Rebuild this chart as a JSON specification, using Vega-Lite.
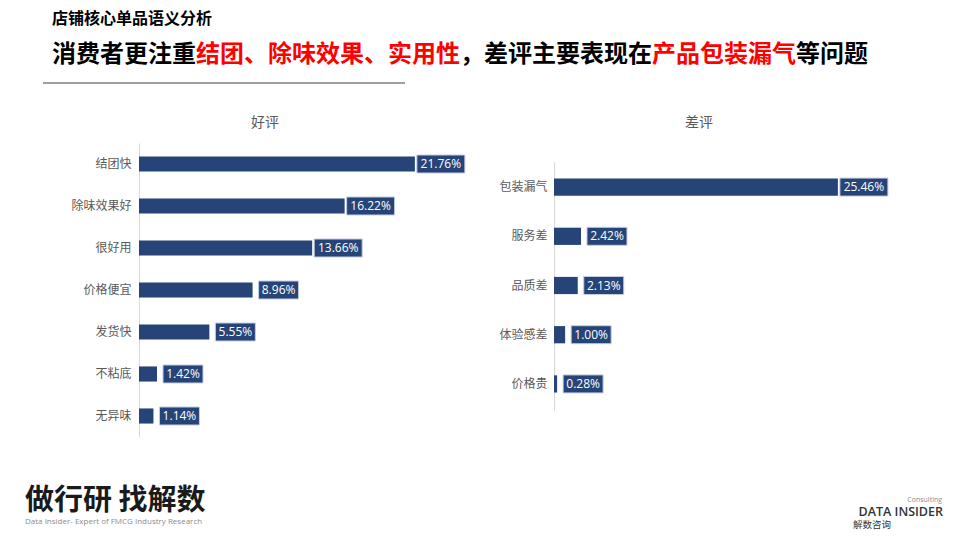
{
  "$schema": "https://vega.github.io/schema/vega-lite/v6.json",
  "background": "white",
  "padding": {"left": 25, "top": 11, "right": 10, "bottom": 5},
  "title": {"text": "店铺核心单品语义分析", "anchor": "start", "frame": "bounds", "dx": 27, "fontSize": 16, "fontWeight": "bold", "color": "#000000", "offset": 16, "font": "Noto Sans CJK SC"},
  "spacing": 32,
  "vconcat": [
    {
      "width": 266,
      "height": 40,
      "data": {"values": [{"black": "消费者更注重　　　　　　　　　　　，差评主要表现在　　　　　　等问题", "red": "\u200b　　　　　　结团、除味效果、实用性　　　　　　　　产品包装漏气"}]},
      "encoding": {"x": {"datum": 0, "type": "quantitative", "scale": {"domain": [0, 1]}, "axis": null}},
      "layer": [
        {"mark": {"type": "rule", "y": "height", "xOffset": -96, "color": "#7f7f7f", "strokeWidth": 1.5}, "encoding": {"x2": {"datum": 1}}},
        {"mark": {"type": "text", "align": "left", "baseline": "middle", "dx": -87, "dy": -8, "fontSize": 24, "fontWeight": "bold", "color": "#000000", "font": "Noto Sans CJK SC"}, "encoding": {"text": {"field": "black", "type": "nominal"}}},
        {"mark": {"type": "text", "align": "left", "baseline": "middle", "dx": -87, "dy": -8, "fontSize": 24, "fontWeight": "bold", "color": "#ff0000", "font": "Noto Sans CJK SC"}, "encoding": {"text": {"field": "red", "type": "nominal"}}}
      ]
    },
    {
      "spacing": 11,
      "hconcat": [
        {
          "width": 348,
          "height": 294,
          "title": {"text": "好评", "fontSize": 14, "fontWeight": "normal", "color": "#595959", "anchor": "middle", "frame": "bounds", "offset": 13},
          "data": {"values": [
            {"item": "结团快", "share": 0.2176},
            {"item": "除味效果好", "share": 0.1622},
            {"item": "很好用", "share": 0.1366},
            {"item": "价格便宜", "share": 0.0896},
            {"item": "发货快", "share": 0.0555},
            {"item": "不粘底", "share": 0.0142},
            {"item": "无异味", "share": 0.0114}
          ]},
          "encoding": {
            "y": {"field": "item", "type": "nominal", "sort": null, "scale": {"paddingInner": 0.64, "paddingOuter": 0.32}, "axis": {"title": null, "ticks": false, "labelPadding": 8, "labelFontSize": 12, "labelColor": "#595959", "domainColor": "#d9d9d9", "minExtent": 96}},
            "x": {"field": "share", "type": "quantitative", "scale": {"domain": [0, 0.2745]}, "axis": null}
          },
          "layer": [
            {"mark": {"type": "bar", "color": "#264478"}},
            {"mark": {"type": "tick", "orient": "horizontal", "thickness": 18, "xOffset": 26, "color": "#264478", "stroke": "#c5cde0", "strokeWidth": 1, "opacity": 1}, "encoding": {"size": {"condition": {"test": "datum.share >= 0.1", "value": 48}, "value": 40}}},
            {"mark": {"type": "text", "align": "center", "baseline": "middle", "dx": 26, "color": "#ffffff", "fontSize": 12, "font": "Open Sans"}, "encoding": {"text": {"field": "share", "type": "quantitative", "format": ".2%"}}}
          ]
        },
        {
          "width": 345,
          "height": 266,
          "title": {"text": "差评", "fontSize": 14, "fontWeight": "normal", "color": "#595959", "anchor": "middle", "frame": "bounds", "offset": 13},
          "data": {"values": [
            {"item": "包装漏气", "share": 0.2546},
            {"item": "服务差", "share": 0.0242},
            {"item": "品质差", "share": 0.0213},
            {"item": "体验感差", "share": 0.0100},
            {"item": "价格贵", "share": 0.0028}
          ]},
          "encoding": {
            "y": {"field": "item", "type": "nominal", "sort": null, "scale": {"domain": ["包装漏气", "服务差", "品质差", "体验感差", "价格贵"], "paddingInner": 0.65, "paddingOuter": 0.528, "align": 0.683}, "axis": {"title": null, "ticks": false, "domain": false, "labelPadding": 7, "labelFontSize": 12, "labelColor": "#595959", "minExtent": 55}},
            "x": {"field": "share", "type": "quantitative", "scale": {"domain": [0, 0.3094]}, "axis": null}
          },
          "layer": [
            {"mark": {"type": "rule", "color": "#d9d9d9", "strokeWidth": 1, "xOffset": 0.5, "yOffset": -25, "y2Offset": 27}, "encoding": {"x": {"datum": 0, "type": "quantitative"}, "y": {"datum": "包装漏气", "type": "nominal"}, "y2": {"datum": "价格贵"}}},
            {"mark": {"type": "bar", "color": "#264478"}},
            {"mark": {"type": "tick", "orient": "horizontal", "thickness": 18, "xOffset": 26, "color": "#264478", "stroke": "#c5cde0", "strokeWidth": 1, "opacity": 1}, "encoding": {"size": {"condition": {"test": "datum.share >= 0.1", "value": 48}, "value": 40}}},
            {"mark": {"type": "text", "align": "center", "baseline": "middle", "dx": 26, "color": "#ffffff", "fontSize": 12, "font": "Open Sans"}, "encoding": {"text": {"field": "share", "type": "quantitative", "format": ".2%"}}}
          ]
        }
      ]
    },
    {
      "width": 804,
      "height": 1,
      "data": {"values": [{"slogan": "做行研 找解数", "tagline": "Data Insider- Expert of FMCG Industry Research", "brand": "DATA INSIDER", "brandCn": "解数咨询", "brandSub": "Consulting"}]},
      "layer": [
        {"mark": {"type": "text", "align": "left", "baseline": "top", "dx": -114, "dy": 17, "fontSize": 29, "fontWeight": "bold", "color": "#1a1a1a", "font": "Noto Sans CJK SC"}, "encoding": {"x": {"datum": 0, "type": "quantitative", "scale": {"domain": [0, 1]}, "axis": null}, "text": {"field": "slogan", "type": "nominal"}}},
        {"mark": {"type": "text", "align": "left", "baseline": "middle", "dx": -114, "dy": 52.5, "fontSize": 8, "color": "#8c8c8c", "font": "Open Sans"}, "encoding": {"x": {"datum": 0, "type": "quantitative", "scale": {"domain": [0, 1]}, "axis": null}, "text": {"field": "tagline", "type": "nominal"}}},
        {"mark": {"type": "text", "align": "right", "baseline": "alphabetic", "dy": 46, "fontSize": 12.5, "fontWeight": 600, "color": "#333333", "font": "Open Sans"}, "encoding": {"x": {"datum": 1, "type": "quantitative", "scale": {"domain": [0, 1]}, "axis": null}, "text": {"field": "brand", "type": "nominal"}}},
        {"mark": {"type": "text", "align": "left", "baseline": "middle", "dx": -90, "dy": 55.5, "fontSize": 9.5, "color": "#333333", "font": "Noto Sans CJK SC"}, "encoding": {"x": {"datum": 1, "type": "quantitative", "scale": {"domain": [0, 1]}, "axis": null}, "text": {"field": "brandCn", "type": "nominal"}}},
        {"mark": {"type": "text", "align": "right", "baseline": "alphabetic", "dx": -1, "dy": 32, "fontSize": 7, "color": "#8c8c8c", "font": "Open Sans"}, "encoding": {"x": {"datum": 1, "type": "quantitative", "scale": {"domain": [0, 1]}, "axis": null}, "text": {"field": "brandSub", "type": "nominal"}}}
      ]
    }
  ],
  "config": {
    "view": {"stroke": null},
    "font": "Noto Sans CJK SC",
    "axis": {"labelFont": "Noto Sans CJK SC"}
  }
}
